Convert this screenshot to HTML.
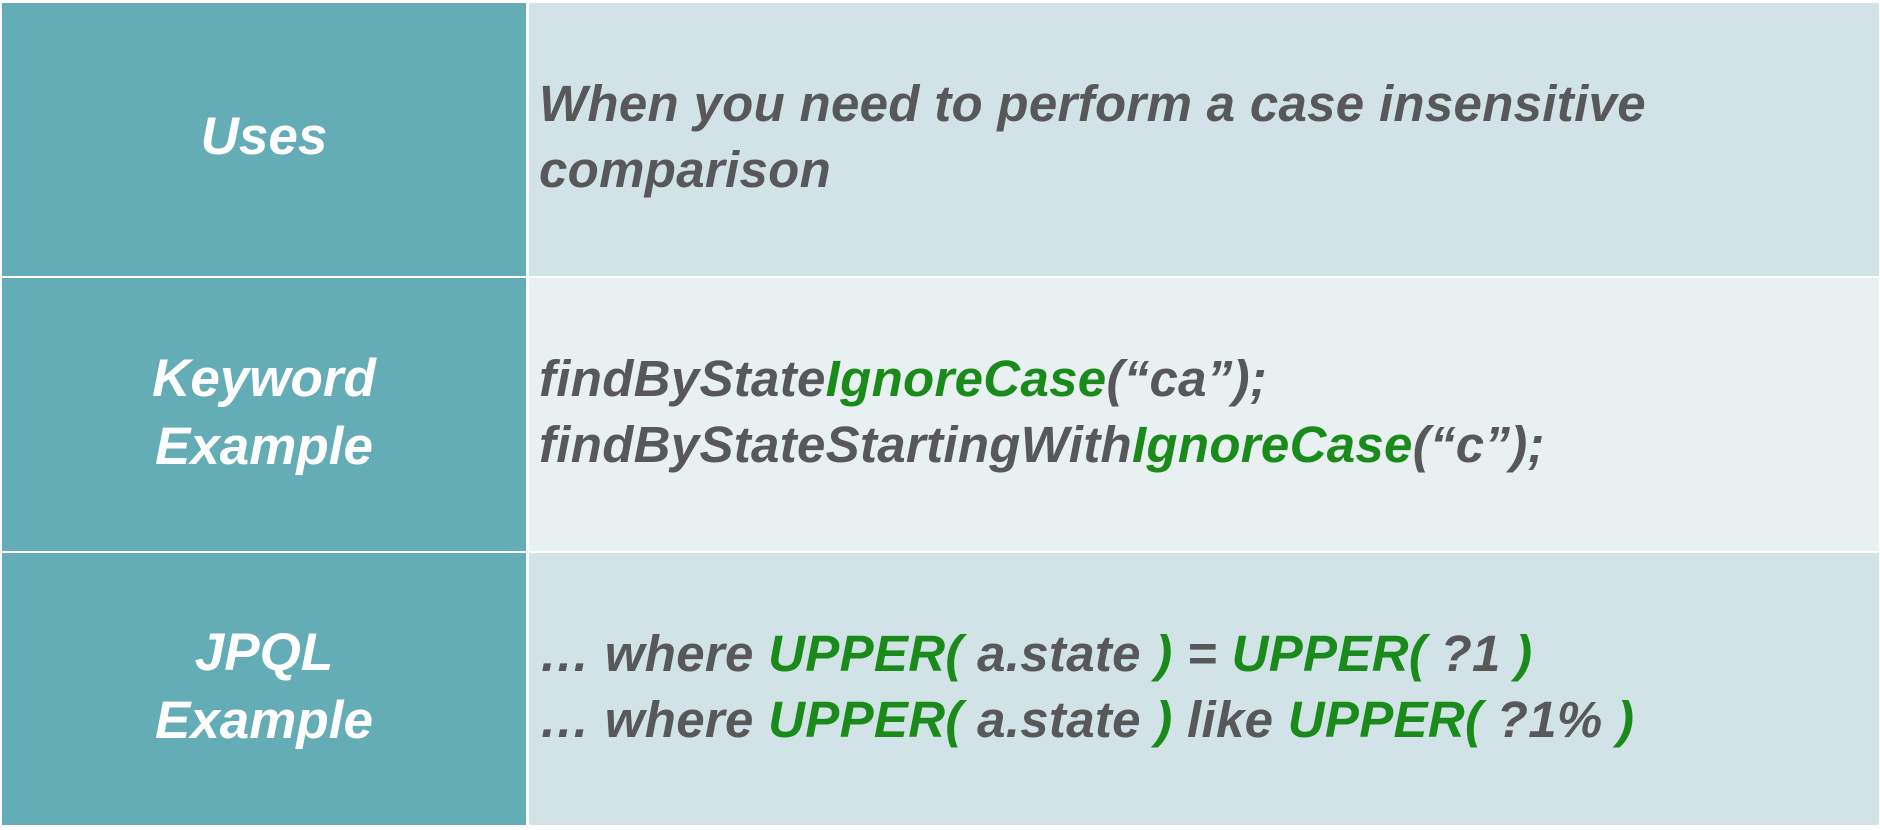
<!DOCTYPE html>
<html><head><style>
body{margin:0;width:1880px;height:830px;background:#fff;position:relative;overflow:hidden;font-family:"Liberation Sans",sans-serif;font-weight:bold;font-style:italic}
.c{position:absolute}
.l{background:#64adb6;color:#fff;font-size:53px;display:flex;align-items:center;justify-content:center;text-align:center;line-height:68px}
.r{color:#58585a;font-size:51px;line-height:66px;padding-left:10px;box-sizing:border-box;display:flex;align-items:center;letter-spacing:0.3px}
.g{color:#1a8a1a}
</style></head><body>
<div class="c l" style="left:2px;top:3px;width:524px;height:273px;padding-bottom:6px;box-sizing:border-box">Uses</div>
<div class="c r" style="left:529px;top:3px;width:1350px;height:273px;background:#d1e3e6;padding-bottom:6px"><div>When you need to perform a case insensitive<br>comparison</div></div>
<div class="c l" style="left:2px;top:278px;width:524px;height:273px;padding-bottom:4px;box-sizing:border-box">Keyword<br>Example</div>
<div class="c r" style="left:529px;top:278px;width:1350px;height:273px;background:#e8f0f1;padding-bottom:6px"><div>findByState<span class="g">IgnoreCase</span>(“ca”);<br>findByStateStartingWith<span class="g">IgnoreCase</span>(“c”);</div></div>
<div class="c l" style="left:2px;top:553px;width:524px;height:272px;padding-bottom:4px;box-sizing:border-box">JPQL<br>Example</div>
<div class="c r" style="left:529px;top:553px;width:1350px;height:272px;background:#d1e3e6;padding-bottom:4px"><div>… where <span class="g">UPPER(</span> a.state <span class="g">)</span> = <span class="g">UPPER(</span> ?1 <span class="g">)</span><br>… where <span class="g">UPPER(</span> a.state <span class="g">)</span> like <span class="g">UPPER(</span> ?1% <span class="g">)</span></div></div>
</body></html>
